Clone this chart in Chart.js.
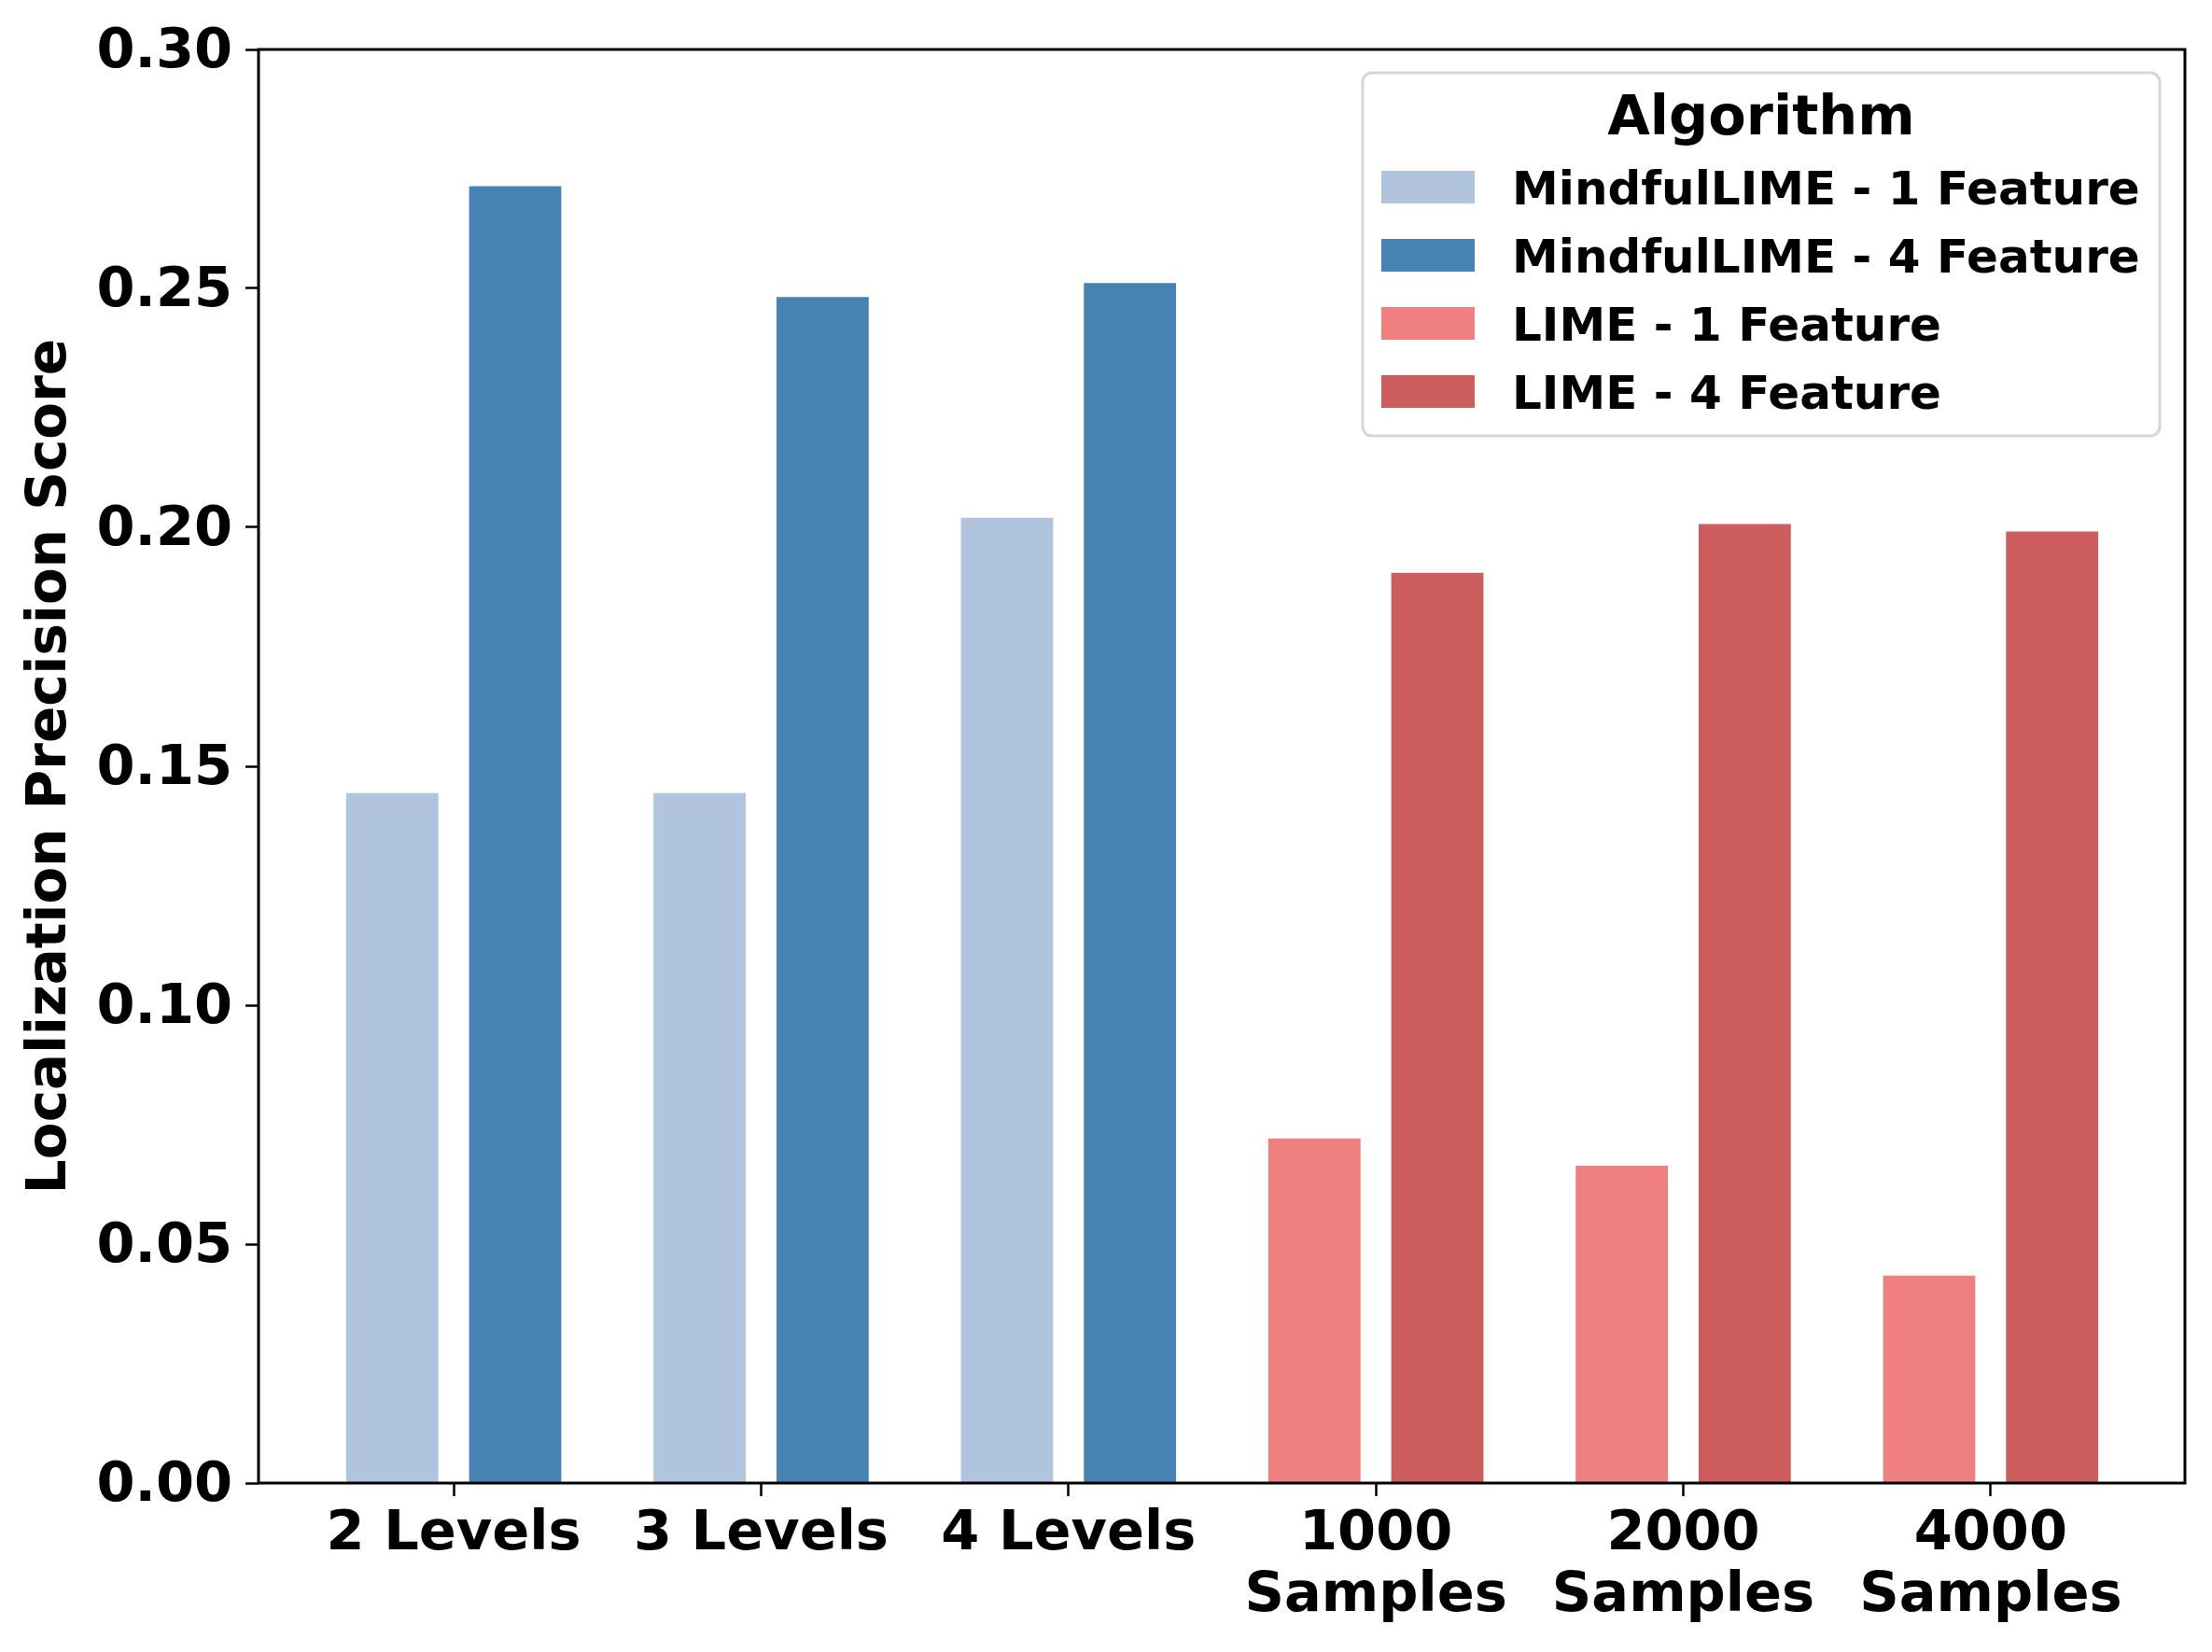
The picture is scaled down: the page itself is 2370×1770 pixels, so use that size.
<!DOCTYPE html>
<html>
<head>
<meta charset="utf-8">
<script src="https://cdn.jsdelivr.net/npm/chart.js@4"></script>
<style>
  html, body { margin: 0; padding: 0; background: #ffffff; }
  #wrap { width: 2370px; height: 1770px; position: relative; }
</style>
</head>
<body>
<div id="wrap"><canvas id="c"></canvas></div>
<script>
// ---- data ----
const categories = ['2 Levels', '3 Levels', '4 Levels', '1000\nSamples', '2000\nSamples', '4000\nSamples'];
const seriesNames = ['MindfulLIME - 1 Feature', 'MindfulLIME - 4 Feature', 'LIME - 1 Feature', 'LIME - 4 Feature'];
const mindful1 = [0.1444, 0.1444, 0.2020, null, null, null];
const mindful4 = [0.2714, 0.2482, 0.2511, null, null, null];
const lime1    = [null, null, null, 0.0721, 0.0664, 0.0434];
const lime4    = [null, null, null, 0.1905, 0.2007, 0.1991];
const yTicks = [0, 0.05, 0.10, 0.15, 0.20, 0.25, 0.30];
const legendTitle = 'Algorithm';
const yTitle = 'Localization Precision Score';

// ---- styles ----
const colors = ['#B0C4DE', '#4682B4', '#F08080', '#CD5C5C'];
const stacks = ['light', 'dark', 'light', 'dark'];
const FONT = '"DejaVu Sans", "Liberation Sans", sans-serif';

const seriesValues = [mindful1, mindful4, lime1, lime4];
const toPoints = (arr) => arr.map((v, i) => ({ x: i, y: v })).filter(p => p.y !== null);

const datasets = seriesValues.map((vals, k) => ({
  label: seriesNames[k],
  data: toPoints(vals),
  backgroundColor: colors[k],
  borderWidth: 0,
  stack: stacks[k],
  categoryPercentage: 0.8,
  barPercentage: 0.75
}));

const framePlugin = {
  id: 'frame',
  afterDraw(chart) {
    const a = chart.chartArea, ctx = chart.ctx;
    ctx.save();
    ctx.strokeStyle = '#000';
    ctx.lineWidth = 3;
    ctx.strokeRect(a.left, a.top, a.right - a.left, a.bottom - a.top);
    ctx.restore();
  }
};

const legendPlugin = {
  id: 'boxLegend',
  afterDraw(chart) {
    const a = chart.chartArea, ctx = chart.ctx;
    const bw = 854, bh = 389;
    const bx = a.right - 27 - bw, by = a.top + 25;
    const r = 10;
    ctx.save();
    ctx.beginPath();
    ctx.moveTo(bx + r, by);
    ctx.lineTo(bx + bw - r, by);
    ctx.arcTo(bx + bw, by, bx + bw, by + r, r);
    ctx.lineTo(bx + bw, by + bh - r);
    ctx.arcTo(bx + bw, by + bh, bx + bw - r, by + bh, r);
    ctx.lineTo(bx + r, by + bh);
    ctx.arcTo(bx, by + bh, bx, by + bh - r, r);
    ctx.lineTo(bx, by + r);
    ctx.arcTo(bx, by, bx + r, by, r);
    ctx.closePath();
    ctx.fillStyle = 'rgba(255,255,255,0.8)';
    ctx.fill();
    ctx.strokeStyle = '#d6d6d6';
    ctx.lineWidth = 3;
    ctx.stroke();

    ctx.fillStyle = '#000';
    ctx.font = 'bold 59px ' + FONT;
    ctx.textAlign = 'center';
    ctx.textBaseline = 'alphabetic';
    ctx.fillText(legendTitle, bx + bw / 2, by + 66);

    ctx.font = 'bold 50px ' + FONT;
    ctx.textAlign = 'left';
    chart.data.datasets.forEach((ds, i) => {
      const rowTop = by + 105 + 73 * i;
      ctx.fillStyle = ds.backgroundColor;
      ctx.fillRect(bx + 20, rowTop, 100, 35);
      ctx.fillStyle = '#000';
      ctx.fillText(ds.label, bx + 160, rowTop + 36);
    });
    ctx.restore();
  }
};

new Chart(document.getElementById('c'), {
  type: 'bar',
  data: { datasets },
  plugins: [framePlugin, legendPlugin],
  options: {
    responsive: true,
    maintainAspectRatio: false,
    devicePixelRatio: 1,
    animation: false,
    layout: { padding: { top: 53, right: 29, left: 0, bottom: 0 } },
    plugins: {
      legend: { display: false },
      tooltip: { enabled: false }
    },
    scales: {
      x: {
        type: 'linear',
        min: -0.635,
        max: 5.632,
        offset: false,
        grid: { display: true, offset: false, drawOnChartArea: false, drawTicks: true, tickLength: 14, tickWidth: 2.5, tickColor: '#000' },
        border: { display: false },
        afterBuildTicks: (scale) => { scale.ticks = categories.map((_, i) => ({ value: i })); },
        afterFit: (scale) => { scale.height = 181; },
        ticks: {
          autoSkip: false,
          maxRotation: 0,
          minRotation: 0,
          padding: 9,
          color: '#000',
          font: { family: FONT, size: 59, weight: 'bold', lineHeight: 1.12 },
          callback: (v) => (categories[v] !== undefined ? categories[v].split('\n') : '')
        }
      },
      y: {
        type: 'linear',
        min: 0,
        max: 0.3,
        grid: { display: true, drawOnChartArea: false, drawTicks: true, tickLength: 14, tickWidth: 2.5, tickColor: '#000' },
        border: { display: false },
        afterBuildTicks: (scale) => { scale.ticks = yTicks.map(v => ({ value: v })); },
        afterFit: (scale) => { scale.width = 277; },
        ticks: {
          padding: 14,
          labelOffset: 4,
          color: '#000',
          font: { family: FONT, size: 59, weight: 'bold' },
          callback: (v) => Number(v).toFixed(2)
        },
        title: {
          display: true,
          text: yTitle,
          color: '#000',
          padding: { top: 20, bottom: 0 },
          font: { family: FONT, size: 58, weight: 'bold' }
        }
      }
    }
  }
});
</script>
</body>
</html>
